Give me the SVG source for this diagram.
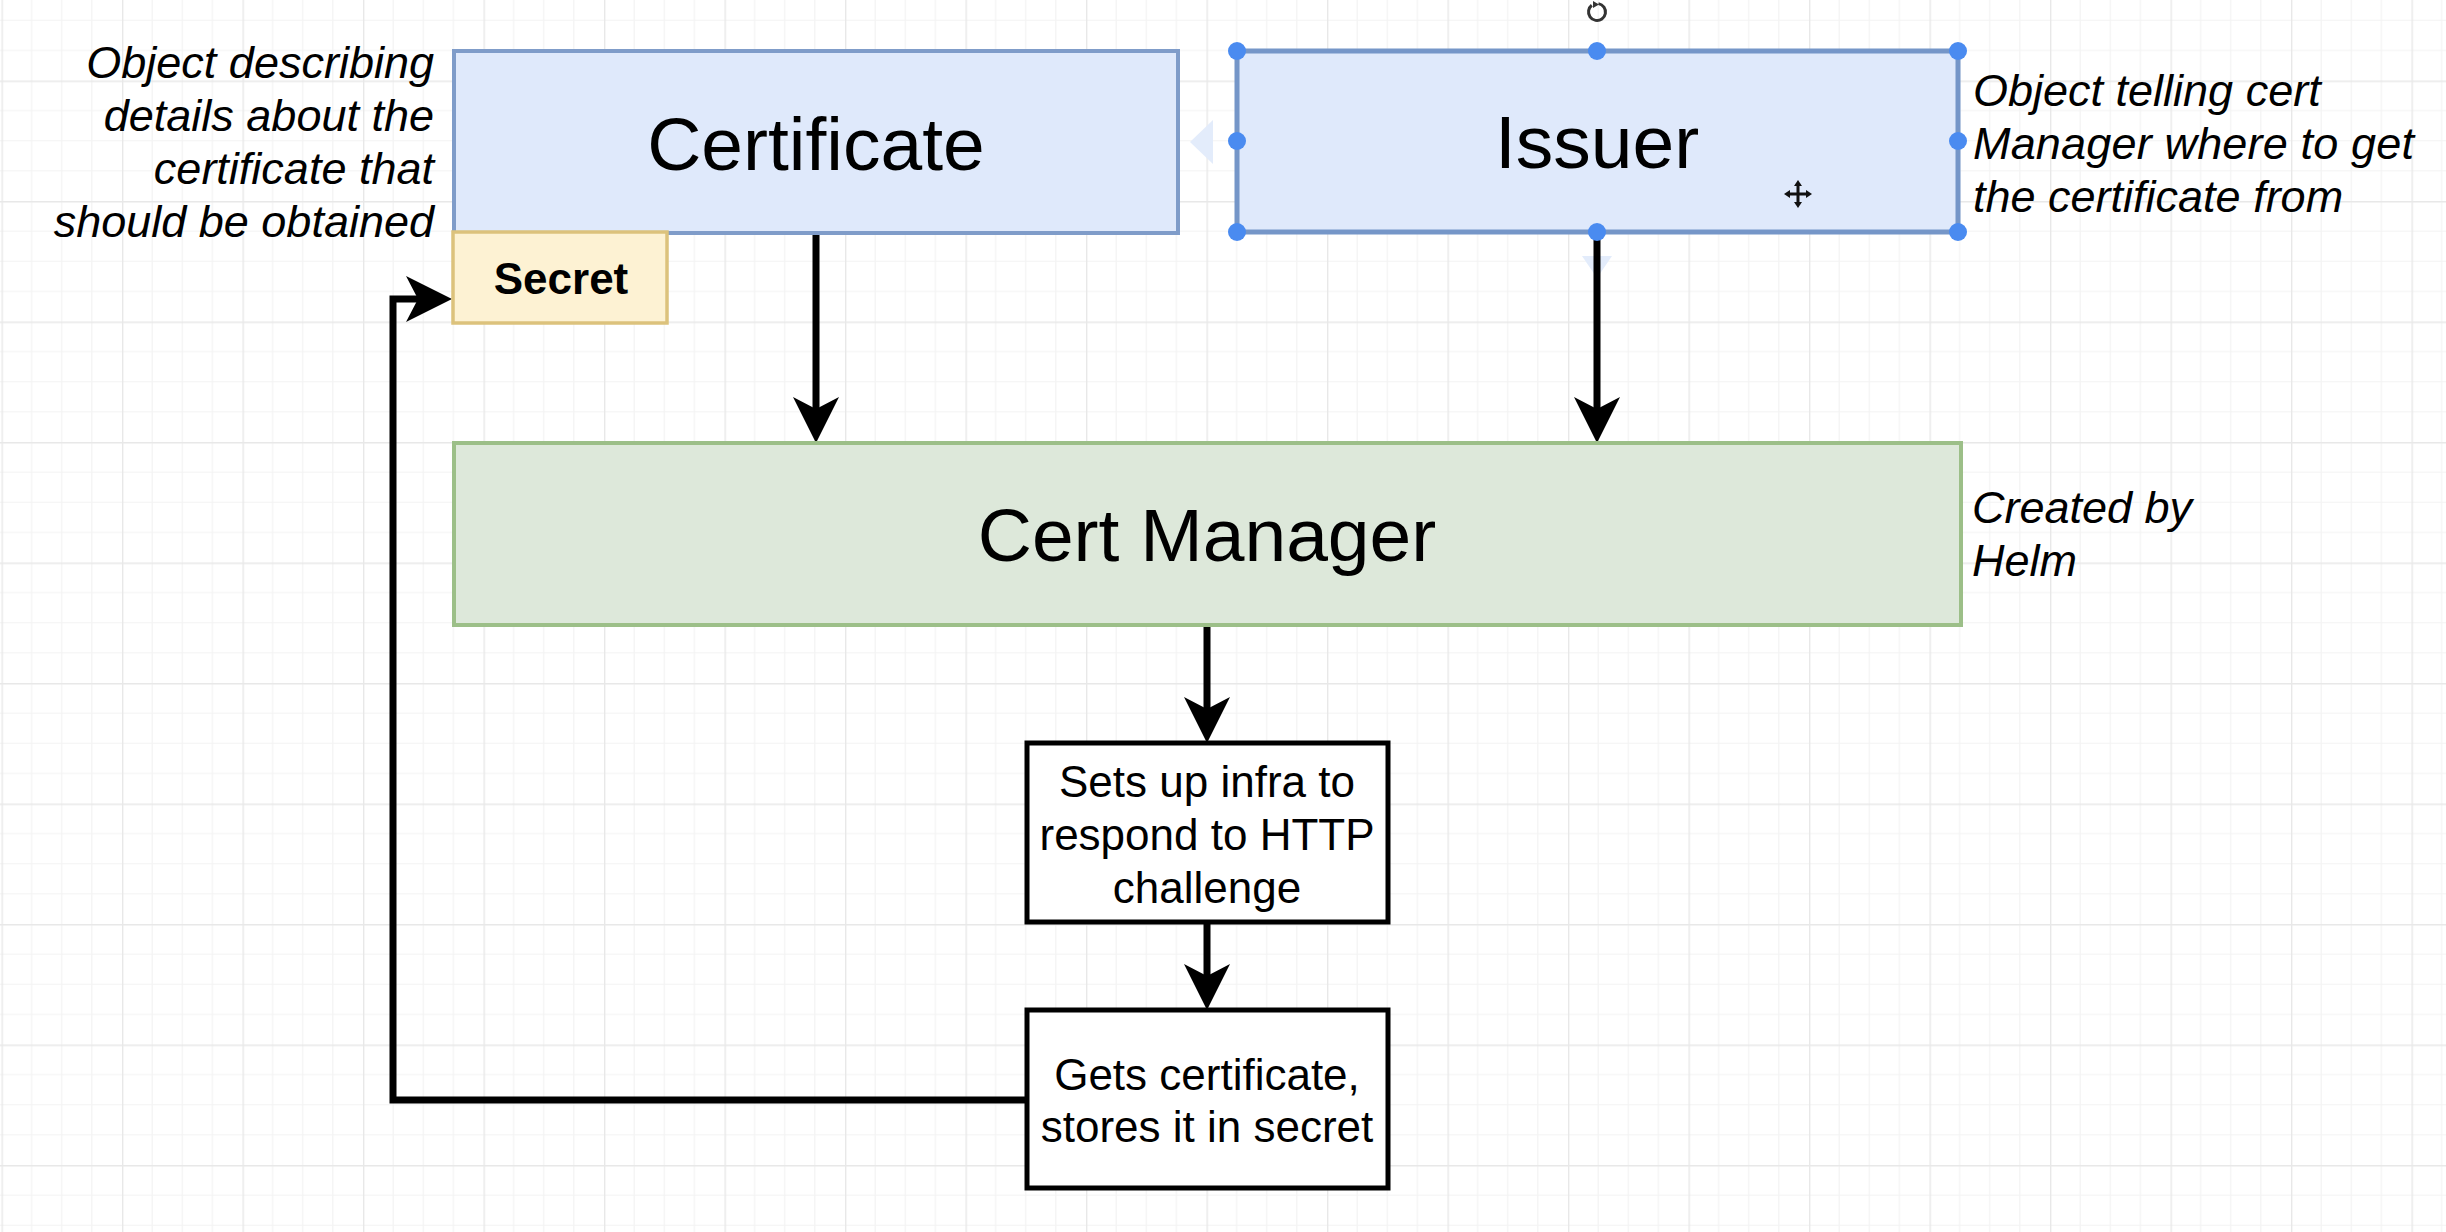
<svg xmlns="http://www.w3.org/2000/svg" width="2446" height="1232" viewBox="0 0 2446 1232">
  <defs>
    <pattern id="grid" x="1.5" y="80.5" width="120.5" height="120.5" patternUnits="userSpaceOnUse">
      <path d="M30.125 0V120.5M60.25 0V120.5M90.375 0V120.5M0 30.125H120.5M0 60.25H120.5M0 90.375H120.5" stroke="#f3f3f3" stroke-width="1.2" fill="none"/>
      <path d="M0.5 0V120.5M0 0.5H120.5" stroke="#e8e8e8" stroke-width="1.8" fill="none"/>
    </pattern>
    <marker id="arrow" viewBox="0 0 46 46" refX="14" refY="23" markerWidth="46" markerHeight="46" markerUnits="userSpaceOnUse" orient="auto">
      <path d="M0,0 L46,23 L0,46 L12,23 Z" fill="#000"/>
    </marker>
    <style>
      .blue { fill: #dfe9fb; stroke: #7f9cc9; stroke-width: 4; }
      .sel { fill: #dfe9fb; stroke: #7596c8; stroke-width: 5; }
      .green { fill: #dde8da; stroke: #9cbf88; stroke-width: 4; }
      .yellow { fill: #fdf2d3; stroke: #dcc27c; stroke-width: 3.5; }
      .plain { fill: #ffffff; stroke: #000000; stroke-width: 5; }
      .big { font-family: "Liberation Sans", Arial, sans-serif; font-size: 75px; fill: #000; text-anchor: middle; }
      .mid { font-family: "Liberation Sans", Arial, sans-serif; font-size: 44px; fill: #000; text-anchor: middle; }
      .bold { font-family: "Liberation Sans", Arial, sans-serif; font-size: 44px; font-weight: bold; fill: #000; text-anchor: middle; }
      .note { font-family: "Liberation Sans", Arial, sans-serif; font-size: 45px; font-style: italic; fill: #000; }
      .conn { fill: none; stroke: #000; stroke-width: 7; marker-end: url(#arrow); }
      .handle { fill: #4a8bf0; }
      .hint { fill: #e3ecfb; }
    </style>
  </defs>

  <rect x="0" y="0" width="2446" height="1232" fill="#ffffff"/>
  <rect x="0" y="0" width="2446" height="1232" fill="url(#grid)"/>

  <!-- faint hover hints -->
  <g id="hints">
    <path class="hint" d="M1213,120 L1190,142 L1213,164 Z"/>
    <path class="hint" d="M1582,256 L1612,256 L1597,278 Z"/>
  </g>

  <g id="connectors">
    <path class="conn" d="M816,233 V411"/>
    <path class="conn" d="M1597,232 V411"/>
    <path class="conn" d="M1207,625 V711"/>
    <path class="conn" d="M1207,922 V978"/>
    <path class="conn" d="M1027,1100 H393 V299 H420"/>
  </g>

  <g id="certificate">
    <rect class="blue" x="454" y="51" width="724" height="182"/>
    <text class="big" x="816" y="170">Certificate</text>
  </g>

  <g id="secret">
    <rect class="yellow" x="453" y="232" width="214" height="91"/>
    <text class="bold" x="561" y="294">Secret</text>
  </g>

  <g id="issuer">
    <rect class="sel" x="1237" y="51" width="721" height="181"/>
    <text class="big" x="1597" y="168">Issuer</text>
  </g>

  <g id="cert-manager">
    <rect class="green" x="454" y="443" width="1507" height="182"/>
    <text class="big" x="1207" y="561">Cert Manager</text>
  </g>

  <g id="sets-up-infra">
    <rect class="plain" x="1027" y="743" width="361" height="179"/>
    <text class="mid" x="1207" y="797">Sets up infra to</text>
    <text class="mid" x="1207" y="850">respond to HTTP</text>
    <text class="mid" x="1207" y="903">challenge</text>
  </g>

  <g id="gets-certificate">
    <rect class="plain" x="1027" y="1010" width="361" height="178"/>
    <text class="mid" x="1207" y="1090">Gets certificate,</text>
    <text class="mid" x="1207" y="1142">stores it in secret</text>
  </g>

  <g id="note-certificate">
    <text class="note" text-anchor="end" x="434" y="78">Object describing</text>
    <text class="note" text-anchor="end" x="434" y="131">details about the</text>
    <text class="note" text-anchor="end" x="434" y="184">certificate that</text>
    <text class="note" text-anchor="end" x="434" y="237">should be obtained</text>
  </g>

  <g id="note-issuer">
    <text class="note" x="1973" y="106">Object telling cert</text>
    <text class="note" x="1973" y="159" textLength="441" lengthAdjust="spacing">Manager where to get</text>
    <text class="note" x="1973" y="212">the certificate from</text>
  </g>

  <g id="note-cert-manager">
    <text class="note" x="1972" y="523">Created by</text>
    <text class="note" x="1972" y="576">Helm</text>
  </g>

  <!-- selection handles on Issuer -->
  <g id="selection">
    <circle class="handle" cx="1237" cy="51" r="9"/>
    <circle class="handle" cx="1597" cy="51" r="9"/>
    <circle class="handle" cx="1958" cy="51" r="9"/>
    <circle class="handle" cx="1237" cy="141" r="9"/>
    <circle class="handle" cx="1958" cy="141" r="9"/>
    <circle class="handle" cx="1237" cy="232" r="9"/>
    <circle class="handle" cx="1597" cy="232" r="9"/>
    <circle class="handle" cx="1958" cy="232" r="9"/>
    <circle cx="1597" cy="12" r="8.5" fill="none" stroke="#333" stroke-width="3" stroke-dasharray="46 7.4" transform="rotate(-80 1597 12)"/>
    <path d="M1593,1 L1599,4.5 L1593,8 Z" fill="#333"/>
    <g stroke="#111" stroke-width="3" fill="none">
      <path d="M1798,183 V205 M1787,194 H1809"/>
    </g>
    <g fill="#111">
      <path d="M1798,180 L1794,186 L1802,186 Z"/>
      <path d="M1798,208 L1794,202 L1802,202 Z"/>
      <path d="M1784,194 L1790,190 L1790,198 Z"/>
      <path d="M1812,194 L1806,190 L1806,198 Z"/>
    </g>
  </g>
</svg>
